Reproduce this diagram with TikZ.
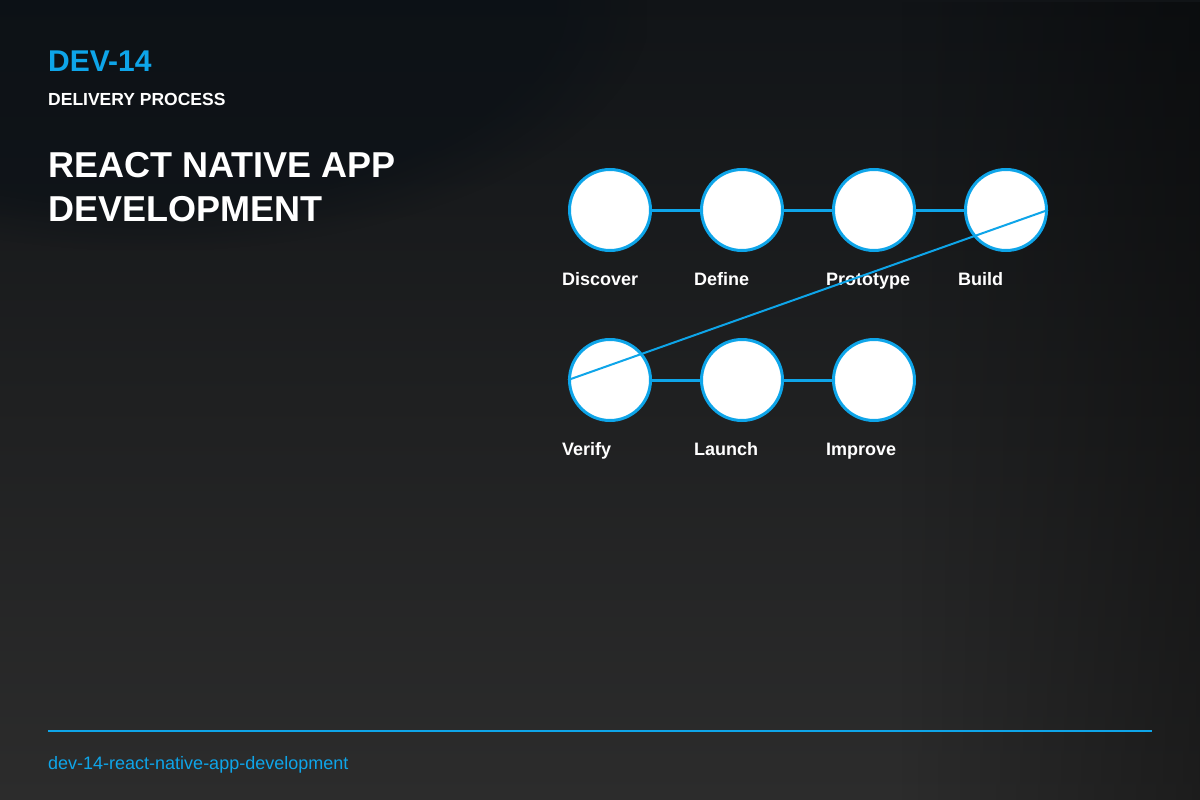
\documentclass[tikz,border=0pt]{standalone}
\usepackage{fontspec}
\setmainfont{Liberation Sans}
\usetikzlibrary{calc,fadings}

\definecolor{accent}{HTML}{0EA5E9}
\definecolor{bgtop}{HTML}{111417}
\definecolor{bgmid}{HTML}{1F2021}
\definecolor{bgbot}{HTML}{2C2C2C}
\definecolor{bgblue}{HTML}{0A1016}

\begin{document}
\begin{tikzpicture}[x=1pt,y=-1pt]
% ---------------------------------------------------------
% Dimensions (in px of the 1200x800 slide)
% ---------------------------------------------------------
\def\PageW{1200}     % slide width
\def\PageH{800}      % slide height
\def\Margin{48}      % left/right margin
\def\StepX{132}      % distance between step circles
\def\RowA{210}       % y of first row of circles
\def\RowB{380}       % y of second row of circles
\def\FirstX{610}     % x of first circle
\def\LabelDX{-48}    % label offset from circle centre (x)
\def\LabelDY{75}     % label baseline offset from circle centre (y)
\def\RuleY{731}      % footer rule

% ---------------------------------------------------------
% Styles
% ---------------------------------------------------------
\tikzset{
  step circle/.style={circle, draw=accent, fill=white, line width=3pt,
    minimum size=81pt, inner sep=0pt},
  link line/.style={draw=accent, line width=3pt},
  jump line/.style={draw=accent, line width=2pt},
  step label/.style={anchor=base west, inner sep=0pt, text=white,
    font=\fontsize{18}{22}\selectfont\bfseries},
  code text/.style={anchor=base west, inner sep=0pt, text=accent,
    font=\fontsize{30}{36}\selectfont\bfseries},
  kicker text/.style={anchor=base west, inner sep=0pt, text=white,
    font=\fontsize{17.5}{21}\selectfont\bfseries},
  title text/.style={anchor=base west, inner sep=0pt, text=white,
    font=\fontsize{36}{44}\selectfont\bfseries},
  foot text/.style={anchor=base west, inner sep=0pt, text=accent,
    font=\fontsize{18}{22}\selectfont}
}

% =========================================================
% 1) BACKGROUND
% =========================================================
\useasboundingbox (0,0) rectangle (\PageW,\PageH);
\begin{scope}
  \clip (0,0) rectangle (\PageW,\PageH);
  \shade[top color=bgtop, bottom color=bgbot, middle color=bgmid]
    (0,0) rectangle (\PageW,\PageH);
  % soft darkening towards the right edge
  \fill[black, opacity=0.35, path fading=west] (900,0) rectangle (\PageW,\PageH);
  % bluish dark corner top left
  \fill[bgblue, opacity=0.6, path fading=circle with fuzzy edge 20 percent]
    (-350,-250) rectangle (650,250);
\end{scope}

% =========================================================
% 2) HEADINGS
% =========================================================
\node[code text]   (code)   at (\Margin,72)  {DEV-14};
\node[kicker text] (kick)   at (\Margin,105) {DELIVERY PROCESS};
\node[title text]  (title1) at (\Margin,177) {REACT NATIVE APP};
\node[title text]  (title2) at (\Margin,221) {DEVELOPMENT};

% =========================================================
% 3) STEP CIRCLES (two rows)
% =========================================================
\foreach \name/\txt [count=\i from 0] in {s1/Discover,s2/Define,s3/Prototype,s4/Build} {
  \node[step circle] (\name) at (\FirstX+\i*\StepX,\RowA) {};
  \node[step label] (\name-lab) at ($(\name.center)+(\LabelDX,\LabelDY)$) {\txt};
}
\foreach \name/\txt [count=\i from 0] in {s5/Verify,s6/Launch,s7/Improve} {
  \node[step circle] (\name) at (\FirstX+\i*\StepX,\RowB) {};
  \node[step label] (\name-lab) at ($(\name.center)+(\LabelDX,\LabelDY)$) {\txt};
}

% =========================================================
% 4) CONNECTORS
% =========================================================
\foreach \a/\b in {s1/s2,s2/s3,s3/s4,s5/s6,s6/s7}
  \draw[link line] (\a) -- (\b);
% wrap-around line from Build to Verify (over the circles)
\draw[jump line] (s4.east) -- (s5.west);

% =========================================================
% 5) FOOTER
% =========================================================
\coordinate (ruleL) at (\Margin,\RuleY);
\coordinate (ruleR) at (\PageW-\Margin,\RuleY);
\draw[accent, line width=2pt] (ruleL) -- (ruleR);
\node[foot text] (slug) at (\Margin,769) {dev-14-react-native-app-development};

\end{tikzpicture}
\end{document}
